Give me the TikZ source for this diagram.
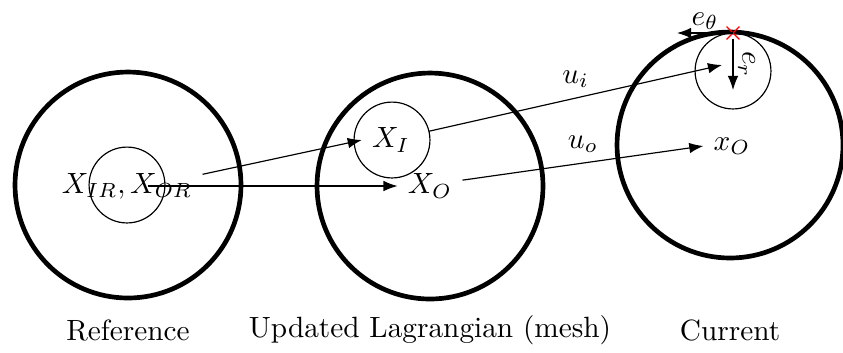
\documentclass[tikz,border=0pt]{standalone}
\usepackage{amsmath}
\usetikzlibrary{positioning, arrows.meta, shapes.misc}

\begin{document}
\begin{tikzpicture}[x=0.012cm, y=-0.012cm, >=Latex, auto]
                \tikzset{body/.style={circle, draw, ultra thick, minimum size=2.71cm, inner sep=0pt},
                         incl/.style={circle, draw, thin, minimum size=0.91cm, inner sep=0pt}}
                \useasboundingbox (0,0) rectangle (843,352);

                % reference configuration
                \node[body] (ref) at (128,185) {};
                \node[incl] (refi) at (127,185) {};
                \node (XR) at (127,186) {$X_{IR}, X_{OR}$};

                % updated lagrangian (mesh)
                \node[body] (mesh) at (430,186) {};
                \node[incl] (meshi) at (392,140) {};
                \node (XI) at (391,140) {$X_I$};
                \node (XO) at (430,186) {$X_O$};

                % current configuration
                \node[body] (cur) at (730,145) {};
                \node[incl] (curi) at (733,71) {};
                \node (xO) at (732,146) {$x_O$};
                \node[cross out, draw=red, minimum size=0.14cm, inner sep=0pt] (P) at (733,33) {};
                \coordinate (eth) at (677,33);
                \coordinate (er) at (733,90);
                \coordinate (ui) at (722,65);

                \node (reftxt) at (128,330) {Reference};
                \node (meshtxt) at (430,330) {Updated Lagrangian (mesh)};
                \node (curtxt) at (730,330) {Current};

                \draw[->] ([yshift=4pt]XR.east) -- (XI.west);
                \draw[->] ([xshift=7pt]XR.center) -- (XO.west);
                \draw[->] ([xshift=3pt, yshift=3pt]XI.east) -- node[above] {$u_i$} (ui);
                \draw[->] ([yshift=2pt]XO.east) -- node[above] {$u_o$} (xO.west);
                \draw[->] (P.center) -- node[above, inner sep=1pt] {$e_\theta$} (eth);
                \draw[->] ([yshift=-2pt]P.center) -- node[midway, rotate=-90, anchor=south, inner sep=1.5pt] {$e_r$} (er);
            \end{tikzpicture}
\end{document}
